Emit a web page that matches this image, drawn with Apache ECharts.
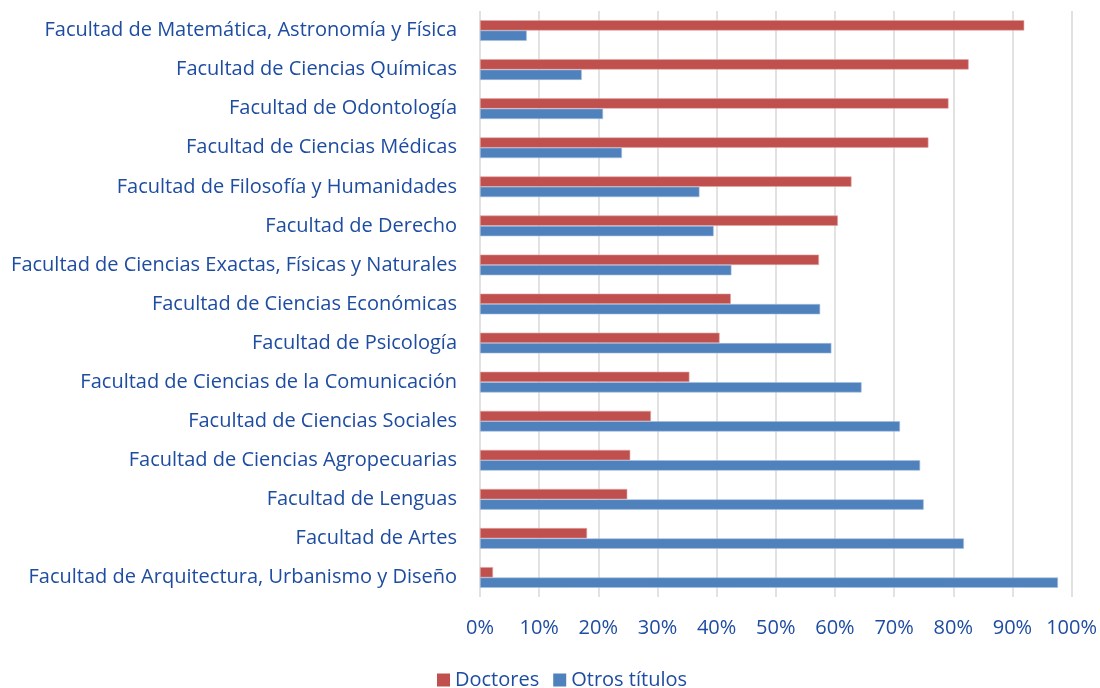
<!DOCTYPE html>
<html>
<head>
<meta charset="utf-8">
<script src="https://cdn.jsdelivr.net/npm/echarts@6/dist/echarts.min.js"></script>
<style>
  html, body { margin: 0; padding: 0; background: #fff; }
  #chart { width: 1100px; height: 688px; }
</style>
</head>
<body>
<div id="chart"></div>
<script>
// facultades, de arriba hacia abajo
var facultades = [
    'Facultad de Matemática, Astronomía y Física',
    'Facultad de Ciencias Químicas',
    'Facultad de Odontología',
    'Facultad de Ciencias Médicas',
    'Facultad de Filosofía y Humanidades',
    'Facultad de Derecho',
    'Facultad de Ciencias Exactas, Físicas y Naturales',
    'Facultad de Ciencias Económicas',
    'Facultad de Psicología',
    'Facultad de Ciencias de la Comunicación',
    'Facultad de Ciencias Sociales',
    'Facultad de Ciencias Agropecuarias',
    'Facultad de Lenguas',
    'Facultad de Artes',
    'Facultad de Arquitectura, Urbanismo y Diseño'
]
// porcentajes (0-100)
var doctores = [92.0, 82.6, 79.2, 75.8, 62.8, 60.5, 57.3, 42.4, 40.5, 35.4, 28.9, 25.4, 24.9, 18.1, 2.2]
var otrosTitulos = [7.9, 17.2, 20.8, 24.0, 37.1, 39.5, 42.5, 57.5, 59.4, 64.5, 71.0, 74.4, 75.0, 81.8, 97.7]

var textColor = '#1E4CA1'
var fontFam = '"Open Sans", "Noto Sans", sans-serif'

var myChart = echarts.init(document.getElementById('chart'))
var option = {
    animation: false,
    textStyle: { fontFamily: fontFam },
    legend: {
        top: 665,
        left: 432,
        itemWidth: 13,
        itemHeight: 13,
        itemGap: 14,
        icon: 'rect',
        itemStyle: { borderWidth: 0 },
        textStyle: { color: textColor, fontSize: 20, fontFamily: fontFam },
        data: ['Doctores', 'Otros títulos']
    },
    grid: {
        left: 480,
        right: 28,
        top: 11,
        bottom: 91,
        containLabel: false
    },
    xAxis: {
        type: 'value',
        min: 0,
        max: 100,
        interval: 10,
        axisLine: { show: false },
        axisTick: { show: false },
        axisLabel: {
            margin: 21,
            color: textColor,
            fontSize: 20,
            fontFamily: fontFam,
            formatter: '{value}%'
        },
        splitLine: { show: true, lineStyle: { color: '#D9D9D9', width: 1.5 } }
    },
    yAxis: {
        type: 'category',
        inverse: true,
        data: facultades,
        axisLine: { show: false },
        axisTick: { show: false },
        axisLabel: {
            margin: 23,
            color: textColor,
            fontSize: 20,
            fontFamily: fontFam
        }
    },
    series: [
        {
            name: 'Doctores',
            type: 'bar',
            data: doctores,
            barGap: '0%',
            barCategoryGap: '47%',
            itemStyle: { color: '#C0504D', borderColor: '#E2A6A4', borderWidth: 0.6 }
        },
        {
            name: 'Otros títulos',
            type: 'bar',
            data: otrosTitulos,
            barGap: '0%',
            barCategoryGap: '47%',
            itemStyle: { color: '#4F81BD', borderColor: '#A7C0DE', borderWidth: 0.6 }
        }
    ]
}
myChart.setOption(option)
</script>
</body>
</html>
